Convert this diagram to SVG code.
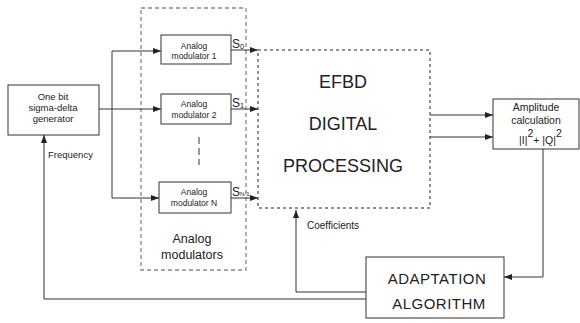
<svg xmlns="http://www.w3.org/2000/svg" width="580" height="323" viewBox="0 0 580 323">
<defs>
<marker id="ah" viewBox="0 0 8 6" refX="8" refY="3" markerWidth="8" markerHeight="6" markerUnits="userSpaceOnUse" orient="auto">
<path d="M0,0 L8,3 L0,6 Z" fill="#222"/>
</marker>
</defs>
<style>
text{font-family:"Liberation Sans",Arial,sans-serif;fill:#222}
.box{fill:#fff;stroke:#333;stroke-width:1}
.ln{fill:none;stroke:#333;stroke-width:1}
.ar{fill:none;stroke:#333;stroke-width:1;marker-end:url(#ah)}
.gd{fill:none;stroke:#888;stroke-width:1.3;stroke-dasharray:4,3}
.kd{fill:none;stroke:#222;stroke-width:1;stroke-dasharray:3,3}
.m{font-size:8.5px;text-anchor:middle}
.s{font-size:12px}
</style>
<rect width="580" height="323" fill="#fff"/>

<g id="analog-modulators">
<rect class="gd" x="141" y="8" width="105" height="262"/>
<text x="192" y="243" font-size="12.5" text-anchor="middle">Analog</text>
<text x="192" y="259" font-size="12.5" text-anchor="middle">modulators</text>
<line class="ln" x1="199" y1="137" x2="199" y2="165" stroke-dasharray="7,4"/>
</g>

<g id="efbd">
<rect class="kd" x="258" y="50" width="172" height="158"/>
<text x="343" y="88" font-size="18" text-anchor="middle">EFBD</text>
<text x="343" y="130" font-size="18" text-anchor="middle">DIGITAL</text>
<text x="343" y="172" font-size="18" text-anchor="middle">PROCESSING</text>
</g>

<g id="generator">
<rect class="box" x="8" y="85" width="91" height="50"/>
<text x="53" y="100" font-size="9.5" text-anchor="middle">One bit</text>
<text x="53" y="111" font-size="9.5" text-anchor="middle">sigma-delta</text>
<text x="53" y="122" font-size="9.5" text-anchor="middle">generator</text>
</g>

<g id="mod1">
<rect class="box" x="161" y="35" width="70" height="29"/>
<text class="m" x="194" y="49">Analog</text>
<text class="m" x="194" y="59">modulator 1</text>
</g>
<g id="mod2">
<rect class="box" x="161" y="94" width="70" height="30"/>
<text class="m" x="194" y="107">Analog</text>
<text class="m" x="194" y="118">modulator 2</text>
</g>
<g id="modN">
<rect class="box" x="159" y="182" width="72" height="31"/>
<text class="m" x="194" y="195">Analog</text>
<text class="m" x="194" y="206">modulator N</text>
</g>

<g id="amplitude">
<rect class="box" x="493" y="99" width="86" height="50"/>
<text x="536" y="111" font-size="10.5" text-anchor="middle">Amplitude</text>
<text x="536" y="124" font-size="10.5" text-anchor="middle">calculation</text>
<text x="519" y="144" font-size="10.5">|I|<tspan dy="-7">2</tspan><tspan dy="7">+ |Q|</tspan><tspan dy="-7">2</tspan></text>
</g>

<g id="adaptation">
<rect class="box" x="366" y="257" width="138" height="61"/>
<text x="437" y="284" font-size="15" text-anchor="middle" letter-spacing="0.5">ADAPTATION</text>
<text x="439" y="309" font-size="15" text-anchor="middle" letter-spacing="0.5">ALGORITHM</text>
</g>

<g id="connectors">
<line class="ln" x1="99" y1="109" x2="112" y2="109"/>
<line class="ln" x1="112" y1="51" x2="112" y2="198"/>
<line class="ar" x1="112" y1="51" x2="161" y2="51"/>
<line class="ar" x1="112" y1="109" x2="161" y2="109"/>
<line class="ar" x1="112" y1="198" x2="159" y2="198"/>
<line class="ar" x1="231" y1="50" x2="258" y2="50"/>
<line class="ar" x1="231" y1="109" x2="258" y2="109"/>
<line class="ar" x1="231" y1="198" x2="258" y2="198"/>
<text class="s" x="232" y="48">S<tspan font-size="7.5" dy="1">0</tspan></text>
<text class="s" x="232" y="107">S<tspan font-size="7.5" dy="1">1</tspan></text>
<text class="s" x="232" y="196">S<tspan font-size="6" dy="0">N-1</tspan></text>
<line class="ar" x1="430" y1="115" x2="493" y2="115"/>
<line class="ar" x1="430" y1="137" x2="493" y2="137"/>
<polyline class="ar" points="543,149 543,277 504,277"/>
<polyline class="ar" points="366,292 296,292 296,210"/>
<text x="307" y="229" font-size="10">Coefficients</text>
<polyline class="ar" points="366,299 44,299 44,135"/>
<text x="48" y="158" font-size="9.5">Frequency</text>
</g>
</svg>
